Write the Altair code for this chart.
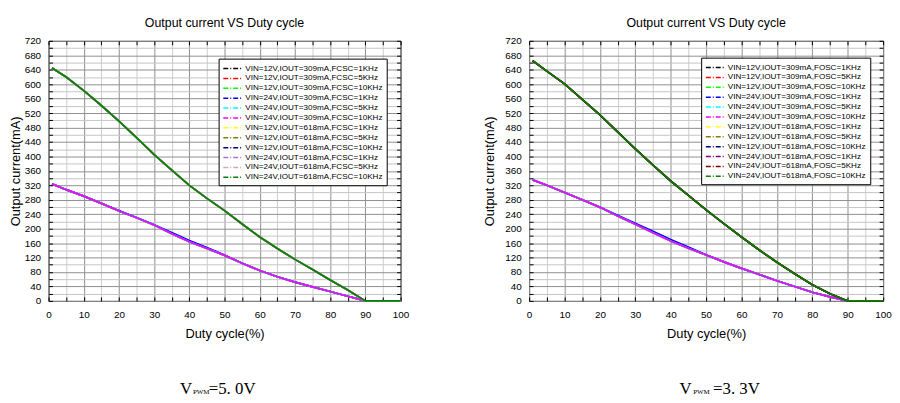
import altair as alt
import pandas as pd

# Duty cycle sample points (%)
duty = [1, 5, 10, 15, 20, 25, 30, 35, 40, 45, 50, 55, 60, 65, 70, 75, 80, 85, 90, 95, 100]

# Left panel (VPWM = 5.0V), output current in mA
left_high = [645, 620, 582, 541, 498, 452, 405, 362, 320, 284, 250, 213, 177, 145, 115, 87, 58, 30, 0, 0, 0]
left_low = [324, 308, 290, 270, 249, 230, 210, 186, 164, 145, 126, 104, 84, 67, 52, 39, 26, 13, 0, 0, 0]
left_low_blue = [324, 308, 290, 270, 250, 231, 211, 189, 167, 148, 127, 104, 84, 67, 52, 39, 26, 13, 0, 0, 0]

# Right panel (VPWM = 3.3V)
right_high = [665, 636, 601, 558, 515, 468, 421, 376, 332, 292, 252, 214, 177, 141, 107, 75, 45, 20, 0, 0, 0]
right_low = [335, 320, 300, 280, 259, 235, 212, 189, 166, 146, 127, 108, 90, 73, 56, 40, 24, 11, 0, 0, 0]
right_low_blue = [335, 320, 300, 280, 260, 237, 215, 193, 170, 149, 128, 108, 90, 73, 56, 40, 24, 11, 0, 0, 0]

left_labels = [
    "VIN=12V,IOUT=309mA,FCSC=1KHz", "VIN=12V,IOUT=309mA,FCSC=5KHz", "VIN=12V,IOUT=309mA,FCSC=10KHz",
    "VIN=24V,IOUT=309mA,FCSC=1KHz", "VIN=24V,IOUT=309mA,FCSC=5KHz", "VIN=24V,IOUT=309mA,FCSC=10KHz",
    "VIN=12V,IOUT=618mA,FCSC=1KHz", "VIN=12V,IOUT=618mA,FCSC=5KHz", "VIN=12V,IOUT=618mA,FCSC=10KHz",
    "VIN=24V,IOUT=618mA,FCSC=1KHz", "VIN=24V,IOUT=618mA,FCSC=5KHz", "VIN=24V,IOUT=618mA,FCSC=10KHz",
]
right_labels = [
    "VIN=12V,IOUT=309mA,FOSC=1KHz", "VIN=12V,IOUT=309mA,FOSC=5KHz", "VIN=12V,IOUT=309mA,FOSC=10KHz",
    "VIN=24V,IOUT=309mA,FOSC=1KHz", "VIN=24V,IOUT=309mA,FOSC=5KHz", "VIN=24V,IOUT=309mA,FOSC=10KHz",
    "VIN=12V,IOUT=618mA,FOSC=1KHz", "VIN=12V,IOUT=618mA,FOSC=5KHz", "VIN=12V,IOUT=618mA,FOSC=10KHz",
    "VIN=24V,IOUT=618mA,FOSC=1KHz", "VIN=24V,IOUT=618mA,FOSC=5KHz", "VIN=24V,IOUT=618mA,FOSC=10KHz",
]
left_colors = ["#000000", "#ff0000", "#00ff00", "#0000ff", "#00ffff", "#ff00ff",
               "#ffff00", "#808000", "#000080", "#a878c8", "#d8a8a8", "#008000"]
right_colors = ["#000000", "#ff0000", "#00ff00", "#0000ff", "#00ffff", "#ff00ff",
                "#ffff00", "#808000", "#000080", "#800080", "#800000", "#008000"]

title_text = "Output current VS Duty cycle"
x_title = "Duty cycle(%)"
y_title = "Output current(mA)"
left_note = ["V", "PWM", "=5. 0V"]
right_note = ["V", "PWM", "=3. 3V"]

FONT = "Liberation Sans"
H = 263


def panel(labels, colors, hi, lo, lo_blue, note, note_x, legend_xy, y_title_pad, width):
    rows = []
    for i, lab in enumerate(labels):
        ys = hi if i >= 6 else (lo_blue if i == 3 else lo)
        for xv, yv in zip(duty, ys):
            rows.append({"series": lab, "duty": xv, "cur": yv})
    df = pd.DataFrame(rows)
    xs = alt.Scale(domain=[0, 100], nice=False)
    ysc = alt.Scale(domain=[0, 720], nice=False)

    x_axis = alt.Axis(
        values=list(range(0, 101, 5)),
        labelExpr="datum.value % 10 === 0 ? datum.label : ''",
        title=x_title, orient="bottom", offset=-4, tickSize=4, labelPadding=9,
        labelFlush=False, labelOverlap=False, domain=False,
        grid=True, gridColor={"condition": {"test": "datum.value % 10 === 0", "value": "#8f8f8f"}, "value": "#cccccc"},
        gridWidth=1, titlePadding=8, titleFontSize=13,
    )
    y_axis = alt.Axis(
        values=list(range(0, 721, 20)),
        labelExpr="datum.value % 40 === 0 ? datum.label : ''",
        title=y_title, orient="left", offset=-4, tickSize=4, labelPadding=8,
        labelOverlap=False, domain=False,
        grid=True, gridColor={"condition": {"test": "datum.value % 40 === 0", "value": "#8f8f8f"}, "value": "#c4c4c4"},
        gridWidth=1, titlePadding=y_title_pad, titleFontSize=13,
    )
    legend = alt.Legend(
        orient="none", legendX=legend_xy[0], legendY=legend_xy[1], title=None,
        strokeColor="black", fillColor="white", padding=4, cornerRadius=0,
        symbolType="M-1,0H2.7", symbolSize=110, symbolStrokeWidth=1.5, symbolDash=[5, 2, 1, 2],
        labelFontSize=8.2, labelFont=FONT, labelColor="black", labelLimit=0, labelOffset=11,
        rowPadding=0, values=labels,
    )
    lines = alt.Chart(df).mark_line(strokeWidth=1.7).encode(
        x=alt.X("duty:Q", scale=xs, axis=x_axis),
        y=alt.Y("cur:Q", scale=ysc, axis=y_axis),
        color=alt.Color("series:N", scale=alt.Scale(domain=labels, range=colors), legend=legend, sort=labels),
    )
    ghost = alt.Chart(df).mark_line(opacity=0).encode(
        x=alt.X("duty:Q", scale=xs, axis=alt.Axis(values=list(range(0, 101, 5)), orient="top", labels=False,
                                                   grid=False, title=None, domain=False, offset=-4, tickSize=4)),
        y=alt.Y("cur:Q", scale=ysc, axis=alt.Axis(values=list(range(0, 721, 20)), orient="right", labels=False,
                                                   grid=False, title=None, domain=False, offset=-4, tickSize=4)),
    )
    sizes = [17, 7, 17]
    texts = []
    for part, px, fs in zip(note, note_x, sizes):
        texts.append(
            alt.Chart(pd.DataFrame({"t": [part]})).mark_text(
                font="Liberation Serif", fontSize=fs, align="left", baseline="alphabetic", color="black"
            ).encode(text="t:N", x=alt.value(px), y=alt.value(357))
        )
    return alt.layer(lines, ghost, *texts).resolve_axis(x="independent", y="independent").properties(
        width=width, height=H, title=alt.TitleParams(title_text, fontSize=12.5, font=FONT, fontWeight="normal",
                                                     frame="group", offset=7, color="black")
    )


left = panel(left_labels, left_colors, left_high, left_low, left_low_blue, left_note, [133, 146, 162], (172, 18), 2, 356)
right = panel(right_labels, right_colors, right_high, right_low, right_low_blue, right_note, [152, 166, 186], (174, 17), 8, 358)

chart = alt.hconcat(left, right, spacing=74).resolve_scale(color="independent").properties(
    padding={"left": 0, "top": 6, "right": 0, "bottom": 0}
).configure_view(stroke="black", strokeWidth=1).configure_axis(
    labelFont=FONT, titleFont=FONT, labelFontSize=10, labelColor="black", titleColor="black",
    tickColor="black", titleFontWeight="normal"
)

chart.save("out.html", embed_options={"renderer": "svg", "actions": False})
